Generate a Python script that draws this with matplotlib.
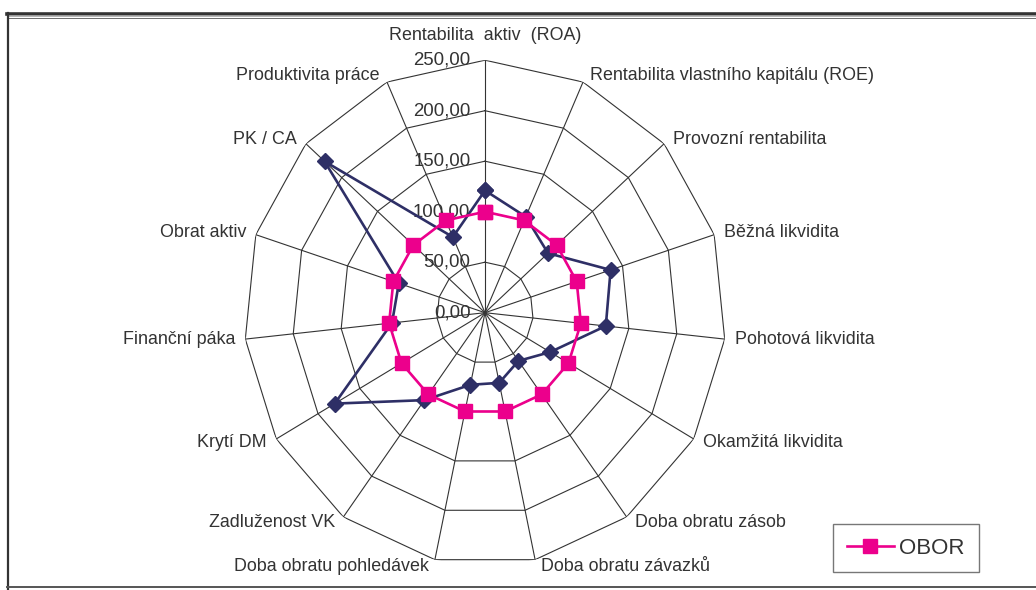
import numpy as np
import matplotlib
matplotlib.use("Agg")
import matplotlib.pyplot as plt
from matplotlib.lines import Line2D

plt.rcParams['font.family'] = ['Liberation Sans', 'DejaVu Sans']

# Ukazatele (osy paprskového grafu)
categories = [
    "Rentabilita  aktiv  (ROA)",
    "Rentabilita vlastního kapitálu (ROE)",
    "Provozní rentabilita",
    "Běžná likvidita",
    "Pohotová likvidita",
    "Okamžitá likvidita",
    "Doba obratu zásob",
    "Doba obratu závazků",
    "Doba obratu pohledávek",
    "Zadluženost VK",
    "Krytí DM",
    "Finanční páka",
    "Obrat aktiv",
    "PK / CA",
    "Produktivita práce",
]

# Podnik (v % oboru)
firma = [121, 104, 88, 137, 126, 78, 59, 71, 73, 107, 180, 97, 94, 224, 82]
# Obor = 100 %
obor = [100, 100, 100, 100, 100, 100, 100, 100, 100, 100, 100, 100, 100, 100, 100]

ticks = [0, 50, 100, 150, 200, 250]
tick_labels = ["0,00", "50,00", "100,00", "150,00", "200,00", "250,00"]

NAVY = "#2E2F66"
PINK = "#EC008C"
GRID = "#333333"
TEXT = "#333333"

n = len(categories)
theta = np.arange(n) * 2 * np.pi / n
theta_c = np.append(theta, theta[0])

fig = plt.figure(figsize=(10.36, 5.90), dpi=100)

# frame of the chart area
fig.add_artist(Line2D([7 / 1036, 1], [1 - 13.5 / 590] * 2, color="#333333", lw=2.6,
                      transform=fig.transFigure))
fig.add_artist(Line2D([8 / 1036, 1], [1 - 16.4 / 590] * 2, color="#a8a8a8", lw=1.2,
                      transform=fig.transFigure))
fig.add_artist(Line2D([8 / 1036, 1], [1 - 18.0 / 590] * 2, color="#555555", lw=0.6,
                      transform=fig.transFigure))
fig.add_artist(Line2D([7.5 / 1036] * 2, [0, 1 - 12.5 / 590], color="#333333", lw=1.6,
                      transform=fig.transFigure))
fig.add_artist(Line2D([7 / 1036, 1], [3.0 / 590] * 2, color="#555555", lw=1.4,
                      transform=fig.transFigure))

ax = fig.add_axes([244 / 1036, 24.8 / 590, 482 / 1036, 505 / 590], projection="polar")
ax.set_aspect("auto")
ax.set_theta_zero_location("N")
ax.set_theta_direction(-1)
ax.set_ylim(0, 250)
ax.grid(False)
ax.set_xticks([])
ax.set_yticks([])
ax.spines["polar"].set_visible(False)
ax.patch.set_alpha(0)

# polygon rings and spokes
for r in ticks[1:]:
    ax.plot(theta_c, [r] * (n + 1), color=GRID, lw=0.8, zorder=1)
for t in theta:
    ax.plot([t, t], [0, 250], color=GRID, lw=0.8, zorder=1)

# data series
ax.plot(theta_c, firma + firma[:1], color=NAVY, lw=1.9, marker="D", ms=8,
        mfc=NAVY, mec=NAVY, zorder=3, clip_on=False)
ax.plot(theta_c, obor + obor[:1], color=PINK, lw=1.9, marker="s", ms=9.5,
        mfc=PINK, mec=PINK, zorder=4, clip_on=False)

# radial value labels
for v, lab in zip(ticks, tick_labels):
    ax.annotate(lab, xy=(0, v), xytext=(-10.5, 0), textcoords="offset points",
                ha="right", va="center", fontsize=13.4, color=TEXT, zorder=2,
                annotation_clip=False)

# category labels
for t, lab in zip(theta, categories):
    s, c = np.sin(t), np.cos(t)
    if abs(s) < 1e-6:
        ax.annotate(lab, xy=(t, 250), xytext=(0, 18), textcoords="offset points",
                    ha="center", va="center", fontsize=12.9, color=TEXT,
                    annotation_clip=False)
        continue
    dx = (5 * np.sign(s) + 5 * s) * 0.72
    dy = 7 * c * 0.72
    ax.annotate(lab, xy=(t, 250), xytext=(dx, dy), textcoords="offset points",
                ha="left" if s > 0 else "right", va="center", fontsize=12.9,
                color=TEXT, annotation_clip=False)

# legend
handle = Line2D([], [], color=PINK, lw=1.9, marker="s", ms=9.5, mfc=PINK, mec=PINK)
leg = fig.legend([handle], ["OBOR"], loc="center", bbox_to_anchor=(906 / 1036, 1 - 548 / 590),
                 fontsize=16, frameon=True, fancybox=False, handlelength=2.1,
                 handletextpad=0.25, borderpad=0.62, labelcolor=TEXT)
leg.get_frame().set_edgecolor("#555555")
leg.get_frame().set_linewidth(1.0)

fig.savefig("out.png", dpi=100)
